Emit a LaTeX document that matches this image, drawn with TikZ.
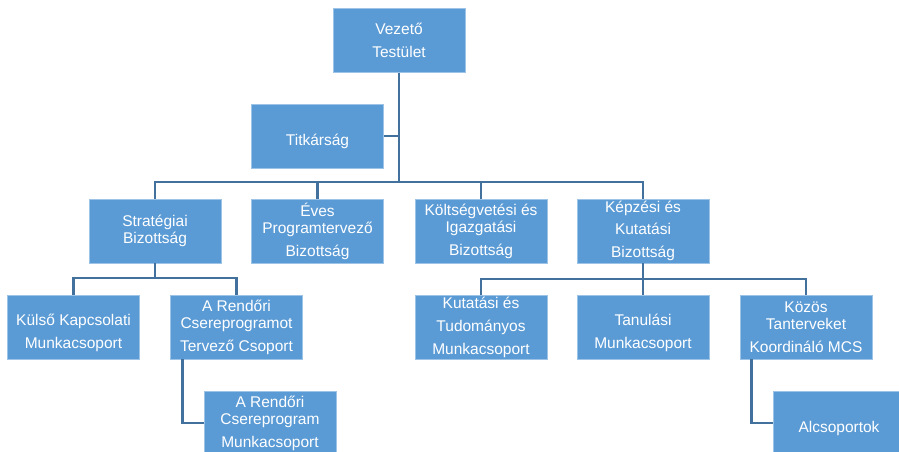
\documentclass[tikz,border=0pt]{standalone}
\usepackage{fontspec}
\setmainfont{Liberation Sans}
\usepackage{tikz}
\definecolor{boxblue}{HTML}{5B9BD5}
\definecolor{lineblue}{HTML}{41719C}
\begin{document}
\begin{tikzpicture}[x=1pt,y=-1pt,
        unit/.style={rectangle, fill=boxblue, draw=boxblue!60!white, line width=0.6pt,
            minimum width=132pt, minimum height=64pt, inner sep=0pt, align=center,
            text=white, font=\fontsize{15.5}{17}\selectfont},
        conn/.style={draw=lineblue, line width=2.6pt}]
        \clip (0,0) rectangle (899,452);
        \def\gap{6pt}

        % top
        \node[unit] (vez) at (399,40.5) {Vezető\\[\gap]Testület};
        \node[unit] (titk) at (317.5,136) {\mbox{}\\[\gap]Titkárság};

        % committees
        \node[unit] (strat) at (155,231) {Stratégiai\\Bizottság};
        \node[unit] (eves) at (317.5,231) {Éves\\Programtervező\\[\gap]Bizottság};
        \node[unit] (kolt) at (481,231) {Költségvetési és\\Igazgatási\\[\gap]Bizottság};
        \node[unit] (kepz) at (643,231) {Képzési és\\[5pt]Kutatási\\[\gap]Bizottság};

        % working groups
        \node[unit] (kuls) at (73.5,327) {\mbox{}\\[\gap]Külső Kapcsolati\\[\gap]Munkacsoport};
        \node[unit] (rend) at (236.5,327) {A Rendőri\\Csereprogramot\\[\gap]Tervező Csoport};
        \node[unit] (kut) at (481,327) {Kutatási és\\[\gap]Tudományos\\[\gap]Munkacsoport};
        \node[unit] (tanul) at (643,327) {\mbox{}\\[\gap]Tanulási\\[\gap]Munkacsoport};
        \node[unit] (kozos) at (806,327) {Közös\\Tanterveket\\[\gap]Koordináló MCS};

        \node[unit] (rmun) at (270,423) {A Rendőri\\Csereprogram\\[\gap]Munkacsoport};
        \node[unit] (alcs) at (839,423) {\mbox{}\\[\gap]Alcsoportok};

        \coordinate (hub) at (399,182);
        \coordinate (sbar) at (155,278);
        \coordinate (kbar) at (643,279);

        \draw[conn] (vez.south) -- (hub);
        \draw[conn] (titk.east) -- (titk.east -| hub);
        \draw[conn] (strat.north) |- (hub) -| (kepz.north);
        \draw[conn] (eves.north) -- (eves.north |- hub);
        \draw[conn] (kolt.north) -- (kolt.north |- hub);

        \draw[conn] (strat.south) -- (sbar);
        \draw[conn] (kuls.north) |- (sbar) -| (rend.north);
        \draw[conn] (kepz.south) -- (tanul.north);
        \draw[conn] (kut.north) |- (kbar) -| (kozos.north);

        \draw[conn] ([xshift=12pt]rend.south west) |- (rmun.west);
        \draw[conn] ([xshift=12pt]kozos.south west) |- (alcs.west);
\end{tikzpicture}
\end{document}
